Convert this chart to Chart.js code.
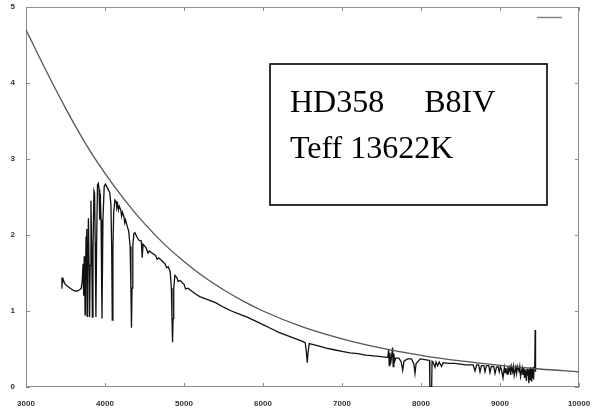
<!DOCTYPE html>
<html>
<head>
<meta charset="utf-8">
<script src="https://cdn.jsdelivr.net/npm/chart.js@4.4.1/dist/chart.umd.min.js"></script>
<style>
  body { margin: 0; background: #fff; }
  canvas { display: block; }
</style>
</head>
<body>
<canvas id="grafico" width="595" height="410"></canvas>
<script>
// eixo x (Angstrom) e eixo y (fluxo)
const xTicks = [3000, 4000, 5000, 6000, 7000, 8000, 9000, 10000];
const yTicks = [0, 1, 2, 3, 4, 5];

// curva de corpo negro
const bbWave = [3000, 3250, 3500, 3750, 4000, 4250, 4500, 4750, 5000, 5250, 5500, 5750,
  6000, 6500, 7000, 7500, 8000, 8500, 9000, 9500, 10000];
const bbFlux = [4.70, 4.17, 3.67, 3.21, 2.81, 2.46, 2.15, 1.88, 1.65, 1.45, 1.28, 1.13,
  1.00, 0.79, 0.633, 0.511, 0.417, 0.343, 0.284, 0.237, 0.200];

// espectro observado HD358
const specWave = [
  3450, 3455, 3462, 3470, 3490, 3520, 3560, 3600, 3640, 3680, 3700, 3712, 3722, 3730, 3737,
  3743, 3748, 3753, 3760, 3768, 3770, 3775, 3780, 3790, 3798, 3805, 3812, 3822, 3832, 3840,
  3848, 3860, 3868, 3876, 3885, 3894, 3905, 3915, 3925, 3933, 3940, 3950, 3962, 3974, 3990,
  4005, 4020, 4040, 4060, 4075, 4085, 4092, 4100, 4110, 4125, 4140, 4150, 4160, 4170, 4180,
  4200, 4210, 4220, 4240, 4250, 4260, 4280, 4300, 4318, 4328, 4335, 4342, 4352, 4365, 4380,
  4400, 4430, 4460, 4471, 4482, 4520, 4545, 4560, 4600, 4640, 4660, 4680, 4720, 4760, 4780,
  4800, 4825, 4840, 4848, 4855, 4862, 4870, 4885, 4910, 4925, 4950, 5000, 5020, 5050, 5100,
  5150, 5200, 5300, 5400, 5500, 5600, 5700, 5800, 5900, 6000, 6100, 6200, 6300, 6400, 6500,
  6535, 6550, 6560, 6570, 6585, 6700, 6800, 6900, 7000, 7100, 7200, 7300, 7400, 7500, 7560,
  7580, 7590, 7598, 7606, 7615, 7625, 7640, 7648, 7656, 7665, 7680, 7720, 7750, 7768, 7785,
  7830, 7880, 7910, 7924, 7938, 7990, 8050, 8100, 8108, 8112, 8135, 8140, 8150, 8177, 8190,
  8210, 8230, 8260, 8280, 8350, 8420, 8500, 8560, 8620, 8660, 8684, 8705, 8730, 8747, 8765,
  8795, 8810, 8828, 8858, 8873, 8890, 8920, 8937, 8955, 8975, 8990, 9005, 9020, 9038, 9055,
  9065, 9075, 9090, 9100, 9110, 9125, 9135, 9145, 9160, 9170, 9180, 9200, 9210, 9220, 9240,
  9250, 9260, 9280, 9290, 9300, 9310, 9320, 9335, 9342, 9350, 9358, 9365, 9372, 9380, 9388,
  9395, 9402, 9410, 9418, 9425, 9432, 9440, 9445, 9450
];
const specFlux = [
  1.30, 1.44, 1.38, 1.42, 1.36, 1.33, 1.30, 1.27, 1.26, 1.28, 1.30, 1.40, 1.62, 1.20, 1.72,
  1.40, 0.95, 1.40, 1.98, 2.08, 1.50, 0.93, 1.50, 2.22, 1.60, 0.92, 1.60, 2.45, 1.80, 0.92,
  1.80, 2.58, 2.55, 1.90, 0.92, 1.90, 2.66, 2.68, 2.60, 2.20, 2.55, 2.20, 0.90, 2.20, 2.64,
  2.67, 2.64, 2.60, 2.56, 2.40, 1.80, 0.88, 1.80, 2.30, 2.46, 2.44, 2.36, 2.40, 2.33, 2.38,
  2.33, 2.25, 2.30, 2.24, 2.16, 2.20, 2.12, 2.05, 1.85, 1.30, 0.78, 1.30, 1.85, 2.02, 2.03,
  1.98, 1.93, 1.92, 1.70, 1.88, 1.83, 1.76, 1.79, 1.76, 1.73, 1.68, 1.70, 1.66, 1.62, 1.57,
  1.58, 1.52, 1.30, 0.90, 0.59, 0.90, 1.30, 1.47, 1.44, 1.39, 1.40, 1.35, 1.29, 1.30, 1.26,
  1.22, 1.19, 1.15, 1.11, 1.05, 1.00, 0.96, 0.92, 0.87, 0.82, 0.77, 0.72, 0.68, 0.64, 0.60,
  0.58, 0.45, 0.32, 0.45, 0.57, 0.54, 0.51, 0.49, 0.47, 0.45, 0.44, 0.42, 0.41, 0.40, 0.39,
  0.39, 0.50, 0.28, 0.45, 0.30, 0.38, 0.52, 0.27, 0.44, 0.33, 0.38, 0.38, 0.33, 0.22, 0.34,
  0.37, 0.37, 0.30, 0.18, 0.31, 0.37, 0.36, 0.35, 0.35, 0.00, 0.00, 0.34, 0.33, 0.26, 0.33,
  0.28, 0.33, 0.27, 0.32, 0.31, 0.31, 0.30, 0.29, 0.29, 0.29, 0.21, 0.29, 0.29, 0.20, 0.28,
  0.28, 0.20, 0.28, 0.28, 0.19, 0.27, 0.27, 0.18, 0.26, 0.27, 0.20, 0.27, 0.22, 0.12, 0.26,
  0.19, 0.25, 0.17, 0.27, 0.20, 0.26, 0.16, 0.27, 0.20, 0.27, 0.15, 0.26, 0.18, 0.27, 0.21,
  0.27, 0.14, 0.25, 0.16, 0.26, 0.12, 0.23, 0.08, 0.24, 0.15, 0.22, 0.05, 0.24, 0.10, 0.26,
  0.08, 0.25, 0.12, 0.26, 0.10, 0.26, 0.27, 0.75, 0.20
];

const rotulo1 = 'HD358     B8IV';
const rotulo2 = 'Teff 13622K';

const pares = (xs, ys) => xs.map((v, i) => ({ x: v, y: ys[i] }));

// moldura estilo gnuplot com tracinhos para dentro
const moldura = {
  id: 'moldura',
  beforeDatasetsDraw(chart) {
    const { ctx, chartArea: a, scales: { x, y } } = chart;
    ctx.save();
    ctx.strokeStyle = '#8c8c8c';
    ctx.lineWidth = 1;
    ctx.strokeRect(a.left + 0.5, a.top + 0.5, a.width - 1, a.height - 1);
    ctx.beginPath();
    x.ticks.forEach(t => {
      const px = Math.round(x.getPixelForValue(t.value)) + 0.5;
      ctx.moveTo(px, a.bottom); ctx.lineTo(px, a.bottom - 4);
      ctx.moveTo(px, a.top); ctx.lineTo(px, a.top + 4);
    });
    y.ticks.forEach(t => {
      const py = Math.round(y.getPixelForValue(t.value)) + 0.5;
      ctx.moveTo(a.left, py); ctx.lineTo(a.left + 4, py);
      ctx.moveTo(a.right, py); ctx.lineTo(a.right - 4, py);
    });
    ctx.stroke();
    // amostra da legenda (sem titulo)
    ctx.strokeStyle = '#888';
    ctx.lineWidth = 1.5;
    ctx.beginPath();
    ctx.moveTo(a.right - 42, 17.5);
    ctx.lineTo(a.right - 17, 17.5);
    ctx.stroke();
    ctx.restore();
  },
  afterDatasetsDraw(chart) {
    const { ctx } = chart;
    ctx.save();
    ctx.fillStyle = '#fff';
    ctx.fillRect(270, 64, 277, 141);
    ctx.strokeStyle = '#000';
    ctx.lineWidth = 1.6;
    ctx.strokeRect(270, 64, 277, 141);
    ctx.fillStyle = '#000';
    ctx.font = '32px "Liberation Serif", "Times New Roman", serif';
    ctx.textBaseline = 'alphabetic';
    ctx.fillText(rotulo1, 290, 112);
    ctx.fillText(rotulo2, 290, 158);
    ctx.restore();
  }
};

const fonteEixo = { family: 'Liberation Sans', size: 8, weight: 'bold' };

new Chart(document.getElementById('grafico'), {
  type: 'scatter',
  data: {
    datasets: [
      {
        label: 'corpo negro',
        data: pares(bbWave, bbFlux),
        showLine: true,
        borderColor: '#555',
        borderWidth: 1.3,
        pointRadius: 0,
        cubicInterpolationMode: 'monotone'
      },
      {
        label: 'espectro',
        data: pares(specWave, specFlux),
        showLine: true,
        borderColor: '#111',
        borderWidth: 1.3,
        pointRadius: 0,
        tension: 0
      }
    ]
  },
  options: {
    responsive: false,
    animation: false,
    layout: { padding: { top: 7, right: 16, left: 0, bottom: 0 } },
    plugins: { legend: { display: false }, tooltip: { enabled: false } },
    scales: {
      x: {
        type: 'linear',
        min: 3000,
        max: 10000,
        afterBuildTicks: s => { s.ticks = xTicks.map(v => ({ value: v })); },
        afterFit: s => { s.height = 23; s.paddingLeft = 0; s.paddingRight = 0; },
        grid: { display: false, drawTicks: false },
        border: { display: false },
        ticks: { padding: 12, maxRotation: 0, color: '#333', font: fonteEixo, callback: v => String(v) }
      },
      y: {
        min: 0,
        max: 5,
        afterBuildTicks: s => { s.ticks = yTicks.map(v => ({ value: v })); },
        afterFit: s => { s.width = 26; s.paddingTop = 0; s.paddingBottom = 0; },
        grid: { display: false, drawTicks: false },
        border: { display: false },
        ticks: { padding: 11, color: '#333', font: fonteEixo, callback: v => String(v) }
      }
    }
  },
  plugins: [moldura]
});
</script>
</body>
</html>
